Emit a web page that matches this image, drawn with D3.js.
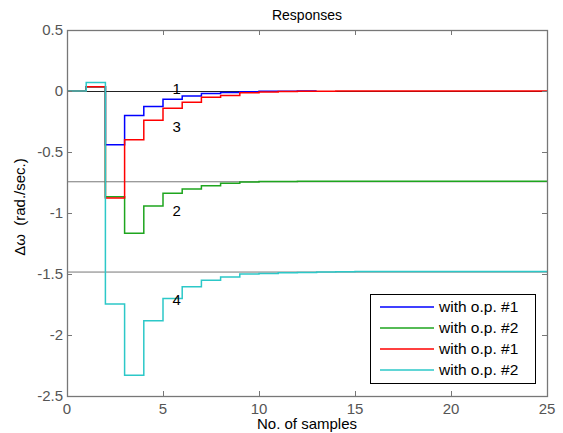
<!doctype html>
<html>
  <head>
    <meta charset="utf-8">
    <title>Responses</title>
    <script src="https://d3js.org/d3.v7.min.js"></script>
    <style type="text/css">
      body { margin: 0; background-color: #ffffff; }
      text { font-family: Arial, "Liberation Sans", sans-serif; }
    </style>
  </head>
  <body>
    <script>
      // chart data
      var xTicks = [0, 5, 10, 15, 20, 25];
      var yTicks = [0.5, 0, -0.5, -1, -1.5, -2, -2.5];
      var refLevels = [0, -0.74, -1.48];

      var samples1 = [0, 1, 2, 3, 4, 5, 6, 7, 8, 9, 10, 11, 12, 13];
      var resp1 = [0, 0.035, -0.44, -0.20, -0.128, -0.068, -0.041, -0.02, -0.012, -0.006, -0.003, -0.002, -0.001, -0.001];

      var samples2 = [0, 1, 2, 3, 4, 5, 6, 7, 8, 9, 10, 11, 12, 13, 14, 15, 16, 17, 18, 19, 20, 21, 22, 23, 24, 25];
      var resp2 = [0, 0.035, -0.866, -1.166, -0.943, -0.839, -0.803, -0.776, -0.757, -0.745, -0.742, -0.741, -0.74, -0.74, -0.74, -0.74, -0.74, -0.74, -0.74, -0.74, -0.74, -0.74, -0.74, -0.74, -0.74, -0.74];

      var samples3 = samples2;
      var resp3 = [0, 0.035, -0.877, -0.40, -0.24, -0.142, -0.093, -0.052, -0.036, -0.015, -0.008, -0.005, -0.003, -0.002, -0.001, 0, 0, 0, 0, 0, 0, 0, 0, 0, 0, 0];

      var samples4 = samples2;
      var resp4 = [0, 0.07, -1.746, -2.33, -1.883, -1.70, -1.604, -1.552, -1.525, -1.50, -1.495, -1.49, -1.487, -1.484, -1.482, -1.48, -1.48, -1.48, -1.48, -1.48, -1.48, -1.48, -1.48, -1.48, -1.48, -1.48];

      var seriesNames = ["with o.p. #1", "with o.p. #2", "with o.p. #1", "with o.p. #2"];
      var seriesColors = ["#0000ff", "#1ea51e", "#ff0000", "#2cc8c8"];
      var curveLabels = ["1", "2", "3", "4"];
      var labelX = [5.5, 5.5, 5.5, 5.5];
      var labelY = [0.02, -0.98, -0.29, -1.71];

      //Width and height
      var w = 563;
      var h = 433;
      var mLeft = 67, mRight = 547, mTop = 30, mBottom = 396;

      var x = d3.scaleLinear().domain([0, 25]).range([mLeft, mRight]);
      var y = d3.scaleLinear().domain([-2.5, 0.5]).range([mBottom, mTop]);

      var svg = d3.select("body")
        .append("svg")
        .attr("width", w)
        .attr("height", h);

      // reference lines
      svg.append("g").selectAll("line")
        .data(refLevels)
        .enter()
        .append("line")
        .attr("x1", x(0)).attr("x2", x(25))
        .attr("y1", d => y(d) + 0.5).attr("y2", d => y(d) + 0.5)
        .style("stroke", (d, i) => i === 0 ? "#222" : "#777")
        .style("stroke-width", 1);

      // step responses
      var series = [
        { xs: samples1, ys: resp1 },
        { xs: samples2, ys: resp2 },
        { xs: samples3, ys: resp3 },
        { xs: samples4, ys: resp4 }
      ];

      var line = d3.line()
        .x(d => x(d[0]))
        .y(d => y(d[1]))
        .curve(d3.curveStepAfter);

      svg.append("g").selectAll("path")
        .data(series)
        .enter()
        .append("path")
        .attr("d", s => line(s.xs.map((v, i) => [v, s.ys[i]])))
        .style("fill", "none")
        .style("stroke", (s, i) => seriesColors[i])
        .style("stroke-width", 1.5);

      // curve labels
      svg.append("g").selectAll("text")
        .data(curveLabels)
        .enter()
        .append("text")
        .attr("x", (d, i) => x(labelX[i]))
        .attr("y", (d, i) => y(labelY[i]))
        .attr("dy", "0.35em")
        .style("font-size", "15px")
        .text(d => d);

      // axes box and ticks (MATLAB style, inward ticks on all sides)
      var axis = svg.append("g");
      axis.append("rect")
        .attr("x", mLeft + 0.5).attr("y", mTop + 0.5)
        .attr("width", mRight - mLeft).attr("height", mBottom - mTop)
        .style("fill", "none")
        .style("stroke", "#777")
        .style("stroke-width", 1.3);

      axis.selectAll(".xt")
        .data(xTicks)
        .enter()
        .append("path")
        .attr("d", d => "M" + (x(d) + 0.5) + "," + mBottom + "v-5M" + (x(d) + 0.5) + "," + mTop + "v5")
        .style("stroke", "#777");

      axis.selectAll(".yt")
        .data(yTicks)
        .enter()
        .append("path")
        .attr("d", d => "M" + mLeft + "," + (y(d) + 0.5) + "h5M" + mRight + "," + (y(d) + 0.5) + "h-5")
        .style("stroke", "#777");

      axis.selectAll(".xl")
        .data(xTicks)
        .enter()
        .append("text")
        .attr("x", d => x(d))
        .attr("y", mBottom + 18)
        .attr("text-anchor", "middle")
        .style("font-size", "15px")
        .style("fill", "#555")
        .text(d => d);

      axis.selectAll(".yl")
        .data(yTicks)
        .enter()
        .append("text")
        .attr("x", mLeft - 4)
        .attr("y", d => y(d))
        .attr("dy", "0.35em")
        .attr("text-anchor", "end")
        .style("font-size", "15px")
        .style("fill", "#555")
        .text(d => d);

      // titles
      svg.append("text")
        .attr("x", (mLeft + mRight) / 2)
        .attr("y", 20)
        .attr("text-anchor", "middle")
        .style("font-size", "14px")
        .text("Responses");

      svg.append("text")
        .attr("x", (mLeft + mRight) / 2)
        .attr("y", 429)
        .attr("text-anchor", "middle")
        .style("font-size", "15px")
        .text("No. of samples");

      svg.append("text")
        .attr("transform", "translate(25,207) rotate(-90)")
        .attr("text-anchor", "middle")
        .style("font-size", "15px")
        .style("white-space", "pre")
        .text("\u0394\u03c9  (rad./sec.)");

      // legend
      var legend = svg.append("g");
      legend.append("rect")
        .attr("x", 370.5).attr("y", 294.5)
        .attr("width", 165).attr("height", 89)
        .style("fill", "#fff")
        .style("stroke", "#000")
        .style("stroke-width", 1);

      var rows = legend.selectAll(".row")
        .data(seriesNames)
        .enter()
        .append("g")
        .attr("transform", (d, i) => "translate(0," + (307 + i * 21) + ")");
      rows.append("line")
        .attr("x1", 380).attr("x2", 434)
        .attr("y1", 0).attr("y2", 0)
        .style("stroke", (d, i) => seriesColors[i])
        .style("stroke-width", 1.5);
      rows.append("text")
        .attr("x", 439)
        .attr("y", 0)
        .attr("dy", "0.35em")
        .style("font-size", "15.5px")
        .text(d => d);
    </script>
  </body>
</html>
